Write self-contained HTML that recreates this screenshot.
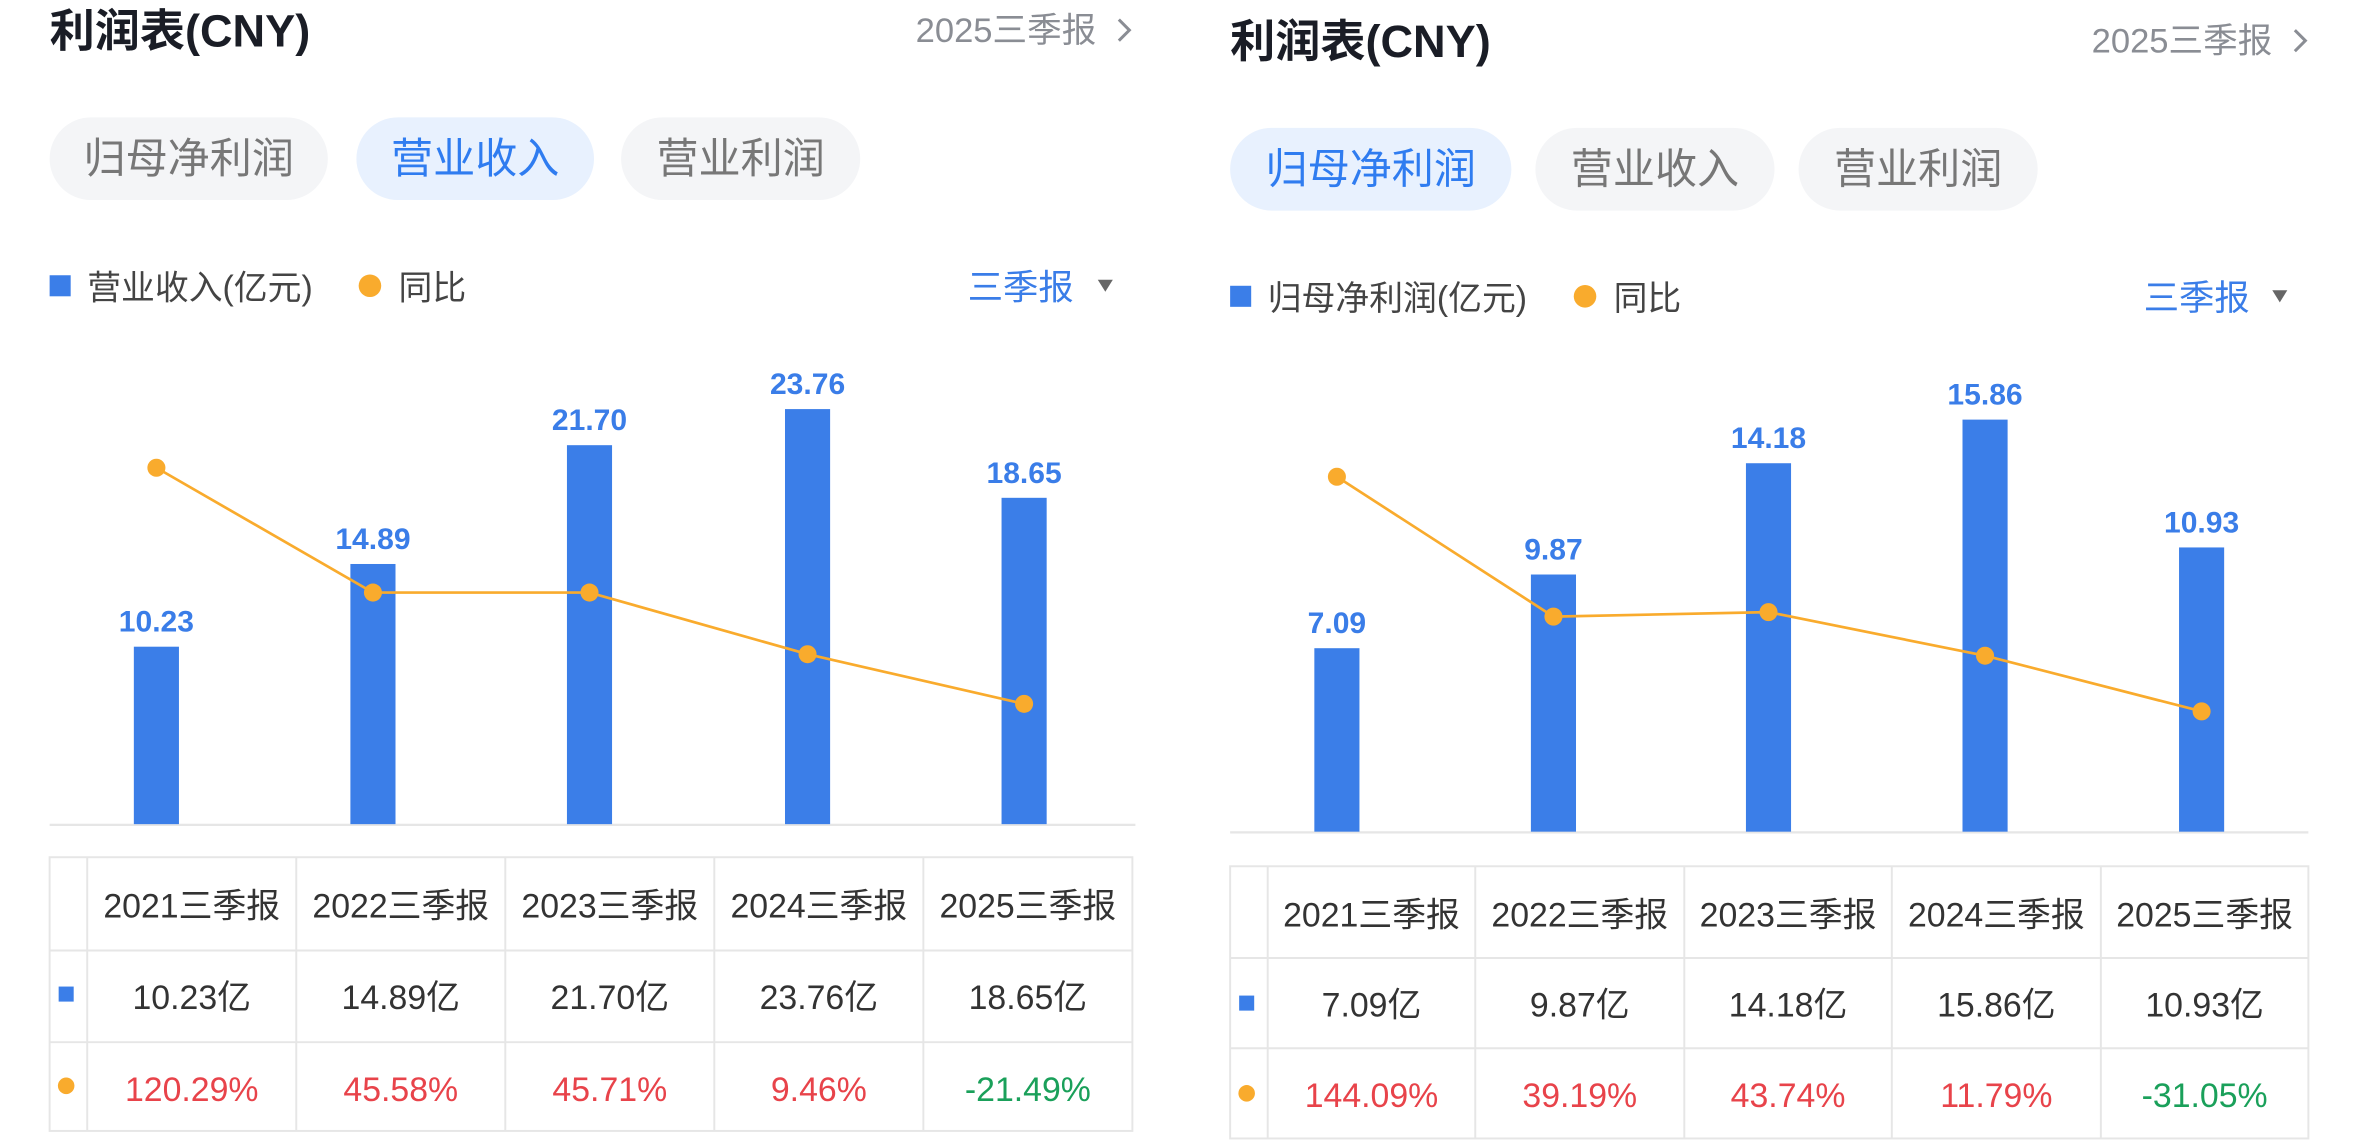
<!DOCTYPE html>
<html><head><meta charset="utf-8"><style>
html,body{margin:0;padding:0;background:#fff;}
svg{display:block;}
text{font-family:"Liberation Sans","Noto Sans CJK SC",sans-serif;}
</style></head><body>
<svg width="2358" height="1140" viewBox="0 0 1568 758" xmlns="http://www.w3.org/2000/svg">
<!-- LEFT PANEL -->
<g>
<text x="33" y="31" font-size="30" font-weight="bold" fill="#1a1d26">利润表(CNY)</text>
<text x="729" y="28" font-size="23" fill="#8a8d94" text-anchor="end">2025三季报</text>
<path d="M744 13 L751 20 L744 27" fill="none" stroke="#8a8d94" stroke-width="2"/>
<rect x="33" y="78" width="185" height="55" rx="27.5" fill="#f4f5f7"/>
<text x="125.5" y="115" font-size="28" fill="#777" text-anchor="middle">归母净利润</text>
<rect x="237" y="78" width="158" height="55" rx="27.5" fill="#e8f1fe"/>
<text x="316" y="115" font-size="28" fill="#2f7cf0" text-anchor="middle">营业收入</text>
<rect x="413" y="78" width="159" height="55" rx="27.5" fill="#f4f5f7"/>
<text x="492.5" y="115" font-size="28" fill="#777" text-anchor="middle">营业利润</text>
<rect x="33" y="183" width="14" height="14" fill="#3b7ee8"/>
<text x="58" y="199" font-size="22.5" fill="#444">营业收入(亿元)</text>
<circle cx="246" cy="190" r="7.5" fill="#f9ab2d"/>
<text x="265" y="199" font-size="22.5" fill="#444">同比</text>
<text x="714" y="199" font-size="23.5" fill="#3a7de8" text-anchor="end">三季报</text>
<path d="M730 186 L740 186 L735 194 Z" fill="#666"/>
<line x1="33" y1="548.5" x2="755" y2="548.5" stroke="#e6e6e6" stroke-width="1.5"/>
<g fill="#3b7ee8">
<rect x="89" y="430" width="30" height="118"/>
<rect x="233" y="375" width="30" height="173"/>
<rect x="377" y="296" width="30" height="252"/>
<rect x="522" y="272" width="30" height="276"/>
<rect x="666" y="331" width="30" height="217"/>
</g>
<g font-size="20" font-weight="bold" fill="#3a7de8" text-anchor="middle">
<text x="104" y="420">10.23</text>
<text x="248" y="365">14.89</text>
<text x="392" y="286">21.70</text>
<text x="537" y="262">23.76</text>
<text x="681" y="321">18.65</text>
</g>
<polyline points="104,311 248,394 392,394 537,435 681,468" fill="none" stroke="#f9ab2d" stroke-width="1.8"/>
<g fill="#f9ab2d">
<circle cx="104" cy="311" r="6"/><circle cx="248" cy="394" r="6"/><circle cx="392" cy="394" r="6"/><circle cx="537" cy="435" r="6"/><circle cx="681" cy="468" r="6"/>
</g>
<g stroke="#e6e6e6" stroke-width="1.3" fill="none">
<rect x="33" y="570" width="720" height="182"/>
<line x1="33" y1="632" x2="753" y2="632"/><line x1="33" y1="693" x2="753" y2="693"/>
<line x1="58" y1="570" x2="58" y2="752"/><line x1="197" y1="570" x2="197" y2="752"/><line x1="336" y1="570" x2="336" y2="752"/><line x1="475" y1="570" x2="475" y2="752"/><line x1="614" y1="570" x2="614" y2="752"/>
</g>
<g font-size="22.5" text-anchor="middle" fill="#333">
<text x="127.5" y="610">2021三季报</text><text x="266.5" y="610">2022三季报</text><text x="405.5" y="610">2023三季报</text><text x="544.5" y="610">2024三季报</text><text x="683.5" y="610">2025三季报</text>
<text x="127.5" y="671">10.23亿</text><text x="266.5" y="671">14.89亿</text><text x="405.5" y="671">21.70亿</text><text x="544.5" y="671">23.76亿</text><text x="683.5" y="671">18.65亿</text>
<text x="127.5" y="732" fill="#e8434a">120.29%</text><text x="266.5" y="732" fill="#e8434a">45.58%</text><text x="405.5" y="732" fill="#e8434a">45.71%</text><text x="544.5" y="732" fill="#e8434a">9.46%</text><text x="683.5" y="732" fill="#1aa05a">-21.49%</text>
</g>
<rect x="39" y="656" width="10" height="10" fill="#3b7ee8"/>
<circle cx="44" cy="722" r="5.5" fill="#f9ab2d"/>
</g>

<!-- RIGHT PANEL -->
<g>
<text x="818" y="38" font-size="30" font-weight="bold" fill="#1a1d26">利润表(CNY)</text>
<text x="1511" y="35" font-size="23" fill="#8a8d94" text-anchor="end">2025三季报</text>
<path d="M1526 20 L1533 27 L1526 34" fill="none" stroke="#8a8d94" stroke-width="2"/>
<rect x="818" y="85" width="187" height="55" rx="27.5" fill="#e8f1fe"/>
<text x="911.5" y="122" font-size="28" fill="#2f7cf0" text-anchor="middle">归母净利润</text>
<rect x="1021" y="85" width="159" height="55" rx="27.5" fill="#f4f5f7"/>
<text x="1100.5" y="122" font-size="28" fill="#777" text-anchor="middle">营业收入</text>
<rect x="1196" y="85" width="159" height="55" rx="27.5" fill="#f4f5f7"/>
<text x="1275.5" y="122" font-size="28" fill="#777" text-anchor="middle">营业利润</text>
<rect x="818" y="190" width="14" height="14" fill="#3b7ee8"/>
<text x="843" y="206" font-size="22.5" fill="#444">归母净利润(亿元)</text>
<circle cx="1054" cy="197" r="7.5" fill="#f9ab2d"/>
<text x="1073" y="206" font-size="22.5" fill="#444">同比</text>
<text x="1496" y="206" font-size="23.5" fill="#3a7de8" text-anchor="end">三季报</text>
<path d="M1511 193 L1521 193 L1516 201 Z" fill="#666"/>
<line x1="818" y1="553.5" x2="1535" y2="553.5" stroke="#e6e6e6" stroke-width="1.5"/>
<g fill="#3b7ee8">
<rect x="874" y="431" width="30" height="122"/>
<rect x="1018" y="382" width="30" height="171"/>
<rect x="1161" y="308" width="30" height="245"/>
<rect x="1305" y="279" width="30" height="274"/>
<rect x="1449" y="364" width="30" height="189"/>
</g>
<g font-size="20" font-weight="bold" fill="#3a7de8" text-anchor="middle">
<text x="889" y="421">7.09</text>
<text x="1033" y="372">9.87</text>
<text x="1176" y="298">14.18</text>
<text x="1320" y="269">15.86</text>
<text x="1464" y="354">10.93</text>
</g>
<polyline points="889,317 1033,410 1176,407 1320,436 1464,473" fill="none" stroke="#f9ab2d" stroke-width="1.8"/>
<g fill="#f9ab2d">
<circle cx="889" cy="317" r="6"/><circle cx="1033" cy="410" r="6"/><circle cx="1176" cy="407" r="6"/><circle cx="1320" cy="436" r="6"/><circle cx="1464" cy="473" r="6"/>
</g>
<g stroke="#e6e6e6" stroke-width="1.3" fill="none">
<rect x="818" y="576" width="717" height="181"/>
<line x1="818" y1="637" x2="1535" y2="637"/><line x1="818" y1="697" x2="1535" y2="697"/>
<line x1="843" y1="576" x2="843" y2="757"/><line x1="981" y1="576" x2="981" y2="757"/><line x1="1120" y1="576" x2="1120" y2="757"/><line x1="1258" y1="576" x2="1258" y2="757"/><line x1="1397" y1="576" x2="1397" y2="757"/>
</g>
<g font-size="22.5" text-anchor="middle" fill="#333">
<text x="912" y="616">2021三季报</text><text x="1050.5" y="616">2022三季报</text><text x="1189" y="616">2023三季报</text><text x="1327.5" y="616">2024三季报</text><text x="1466" y="616">2025三季报</text>
<text x="912" y="676">7.09亿</text><text x="1050.5" y="676">9.87亿</text><text x="1189" y="676">14.18亿</text><text x="1327.5" y="676">15.86亿</text><text x="1466" y="676">10.93亿</text>
<text x="912" y="736" fill="#e8434a">144.09%</text><text x="1050.5" y="736" fill="#e8434a">39.19%</text><text x="1189" y="736" fill="#e8434a">43.74%</text><text x="1327.5" y="736" fill="#e8434a">11.79%</text><text x="1466" y="736" fill="#1aa05a">-31.05%</text>
</g>
<rect x="824" y="662" width="10" height="10" fill="#3b7ee8"/>
<circle cx="829" cy="727" r="5.5" fill="#f9ab2d"/>
</g>
</svg>
</body></html>
